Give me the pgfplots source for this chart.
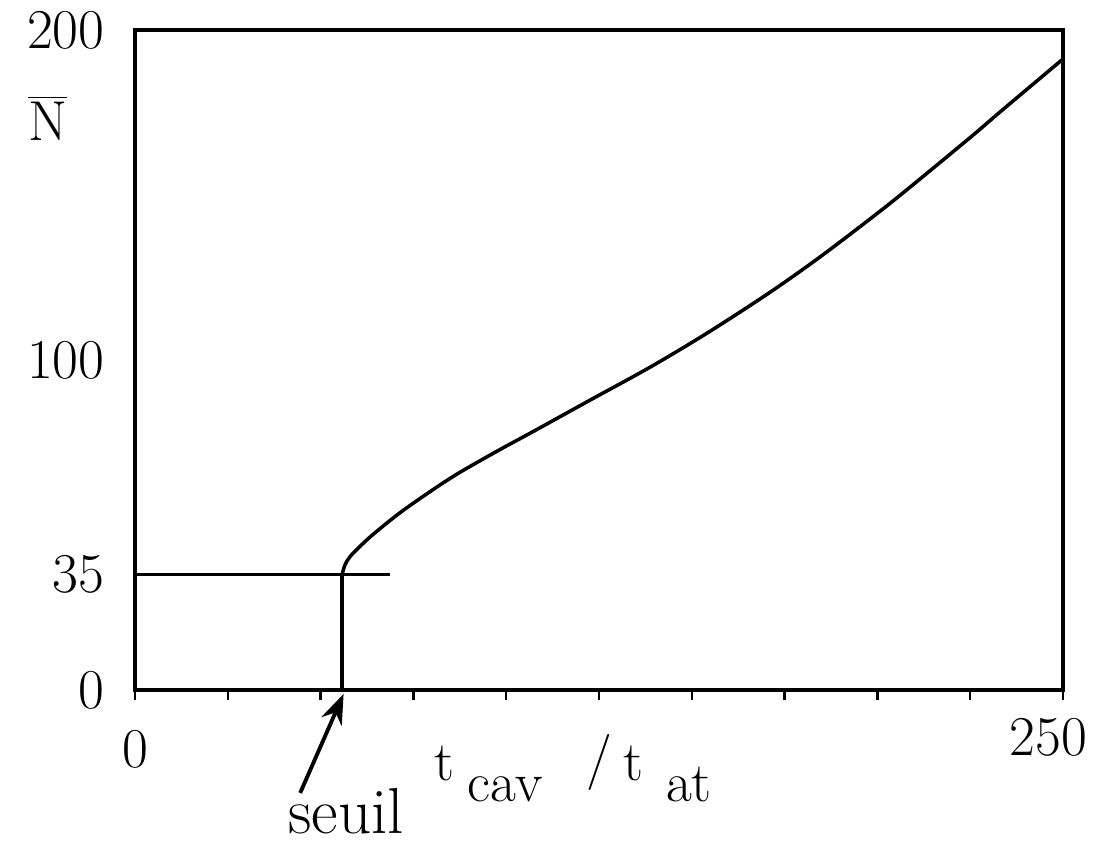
\documentclass[border=0pt]{standalone}
\usepackage{pgfplots}
\pgfplotsset{compat=1.18}
\usepackage{fontspec}
\usetikzlibrary{arrows.meta}
\newcommand\lbl{\fontsize{16}{19}\selectfont}
\begin{document}
\begin{tikzpicture}
\useasboundingbox (0,0) rectangle (11.05cm,8.47cm);
\begin{axis}[
  at={(1.35cm,1.57cm)}, anchor=south west,
  scale only axis, width=9.28cm, height=6.6cm,
  xmin=0, xmax=250, ymin=0, ymax=200,
  axis line style={line width=1.1pt},
  xtick={0,25,...,250}, xticklabels={},
  xtick pos=bottom, tick align=outside,
  major tick length=0.1cm,
  xtick style={line width=0.7pt, black},
  ytick={0,35,100,200}, yticklabels={0,35,100,200},
  ytick style={draw=none},
  yticklabel style={font=\lbl, xshift=-0.08cm},
  clip=false,
]
% threshold lines
\addplot[line width=0.6pt] coordinates {(0,35) (68.8,35)};
\addplot[line width=1.2pt] coordinates {(55.8,0) (55.8,35)};
% curve
\addplot[line width=1pt, smooth, tension=0.5] coordinates {
(55.8,35) (56.6,38.0) (58.0,40.5) (60.7,43.6) (64.3,47.3) (71.5,53.8)
(80.4,60.8) (87.6,66.0) (98.4,72.9) (107.4,78.4) (122.7,87.9)
(138.9,97.9) (154.2,108.2) (170.4,120.0) (183.8,130.6) (197.3,142.1)
(207.2,150.9) (225.2,167.6) (233.3,175.4) (250,191.2)
};
% arrow to threshold
\addplot[line width=1.1pt, -{Stealth[length=3mm,width=2.2mm]}] coordinates {(44.5,-31.2) (56.2,-1.2)};
% labels
\node[font=\lbl] at (axis cs:0,-17.9) {0};
\node[font=\lbl] at (axis cs:246,-14.5) {250};
\node[font=\lbl] at (axis cs:-23.5,173.3) {$\overline{\hbox{N}}$};
\node[font=\lbl, anchor=base, inner sep=0] at (axis cs:83.4,-27.3) {t};
\node[font=\lbl, anchor=base west, inner sep=0] at (axis cs:89.5,-33.9) {cav};
\node[font=\lbl, anchor=base west, inner sep=0] at (axis cs:121.4,-26.1) {/};
\node[font=\lbl, anchor=base west, inner sep=0] at (axis cs:131.4,-27.3) {t};
\node[font=\lbl, anchor=base west, inner sep=0] at (axis cs:142.9,-33.9) {at};
\node[font=\fontsize{18.5}{22}\selectfont, anchor=base, inner sep=0] at (axis cs:56.9,-43.6) {seuil};
\end{axis}
\end{tikzpicture}
\end{document}
